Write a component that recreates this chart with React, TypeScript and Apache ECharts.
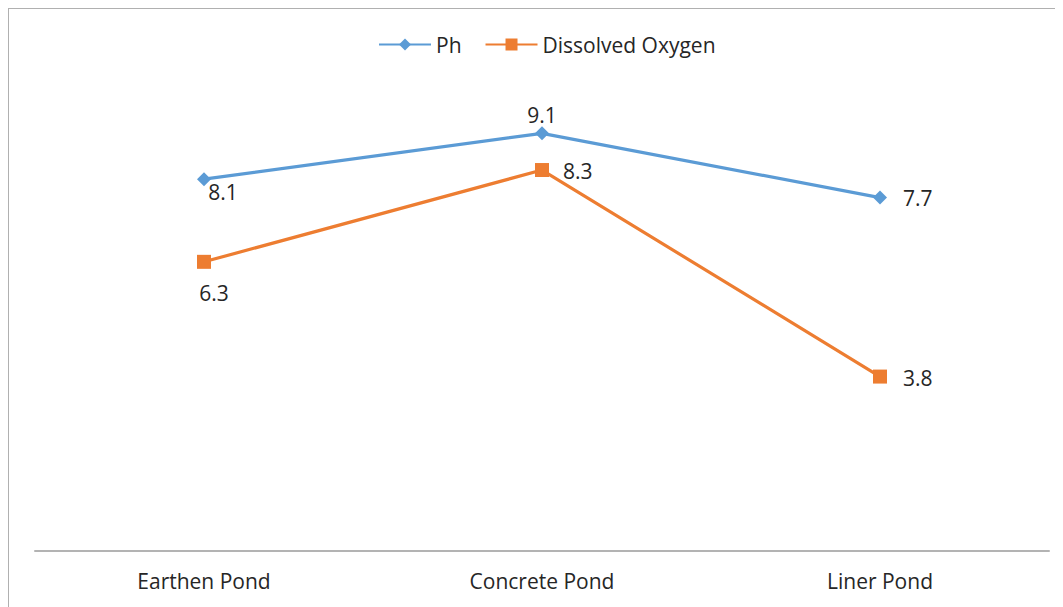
import React, { useEffect, useRef } from "react";
import * as echarts from "echarts";

const categories = ["Earthen Pond", "Concrete Pond", "Liner Pond"];
const phValues = [8.1, 9.1, 7.7];
const doValues = [6.3, 8.3, 3.8];
const seriesNames = ["Ph", "Dissolved Oxygen"];

const FONT = "'Open Sans', 'Noto Sans', sans-serif";

export default function App() {
  const ref = useRef<HTMLDivElement>(null);
  useEffect(() => {
    if (!ref.current) return;
    const chart = echarts.init(ref.current, undefined, { renderer: "svg" });
    const labelBase = { show: true, fontSize: 21, color: "#262626", fontFamily: FONT };
    const phLabels = [
      { position: "bottom", offset: [19, -10] },
      { position: "top", offset: [0, 4] },
      { position: "right", offset: [11, 0] },
    ];
    const doLabels = [
      { position: "bottom", offset: [10, 9] },
      { position: "right", offset: [9, 1] },
      { position: "right", offset: [11, 1] },
    ];
    chart.setOption({
      animation: false,
      backgroundColor: "#ffffff",
      textStyle: { fontFamily: FONT },
      legend: {
        top: 20,
        left: 364,
        itemWidth: 52,
        itemHeight: 15,
        itemGap: 23,
        textStyle: { fontSize: 21, color: "#262626", fontFamily: FONT },
        data: seriesNames,
      },
      grid: { left: 26, right: 14, top: 83, bottom: 56, containLabel: false },
      xAxis: {
        type: "category",
        data: categories,
        boundaryGap: true,
        axisLine: { lineStyle: { color: "#b3b3b3", width: 2 } },
        axisTick: { show: false },
        axisLabel: { fontSize: 21, color: "#262626", margin: 19, fontFamily: FONT },
      },
      yAxis: {
        type: "value",
        min: 0,
        max: 10,
        interval: 2,
        show: false,
        splitLine: { show: false },
      },
      series: [
        {
          name: seriesNames[0],
          type: "line",
          data: phValues.map((v, i) => ({
            value: v,
            label: { ...labelBase, ...phLabels[i] },
          })),
          symbol: "diamond",
          symbolSize: 14,
          color: "#5B9BD5",
          lineStyle: { width: 3.2, color: "#5B9BD5" },
          itemStyle: { color: "#5B9BD5" },
        },
        {
          name: seriesNames[1],
          type: "line",
          data: doValues.map((v, i) => ({
            value: v,
            label: { ...labelBase, ...doLabels[i] },
          })),
          symbol: "rect",
          symbolSize: 14,
          color: "#ED7D31",
          lineStyle: { width: 3.2, color: "#ED7D31" },
          itemStyle: { color: "#ED7D31" },
        },
      ],
    });
    return () => chart.dispose();
  }, []);
  return (
    <div
      style={{
        width: 1056,
        height: 600,
        marginLeft: -1,
        marginTop: -1,
        borderLeft: "2px solid #b0b0b0",
        borderTop: "2px solid #b0b0b0",
        boxSizing: "border-box",
        overflow: "hidden",
      }}
    >
      <div ref={ref} style={{ width: 1054, height: 598 }} />
    </div>
  );
}
